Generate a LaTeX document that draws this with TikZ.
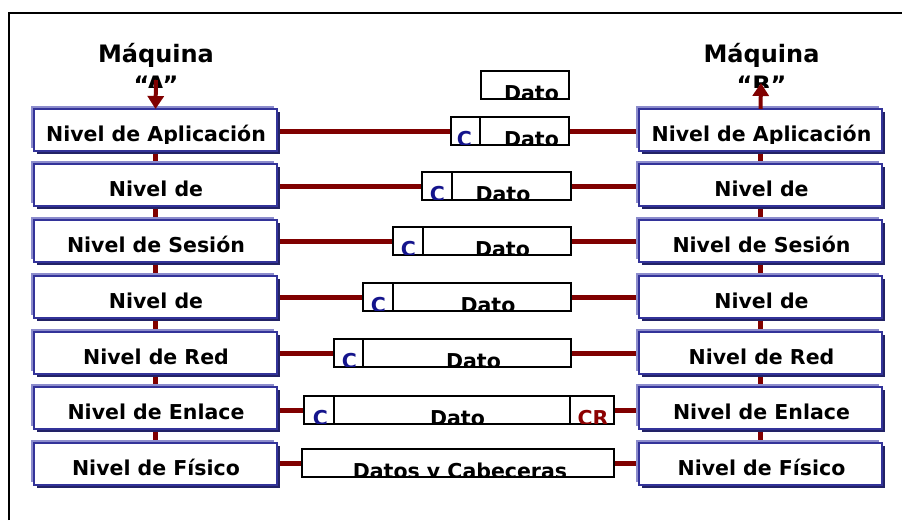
\documentclass[tikz,border=0pt]{standalone}
\usepackage{fontspec}
\setmainfont{DejaVu Sans}
\usetikzlibrary{shadows,arrows.meta,backgrounds,calc}
\definecolor{lay}{RGB}{51,51,153}
\definecolor{layL}{RGB}{140,140,204}
\definecolor{layD}{RGB}{34,34,102}
\definecolor{wire}{RGB}{128,0,0}
\definecolor{cblue}{RGB}{20,20,140}
\definecolor{cred}{RGB}{140,0,0}
\begin{document}
\begin{tikzpicture}[x=1pt,y=-1pt,
  layerbox/.style={rectangle, draw=lay, line width=2pt, fill=white,
    minimum width=243pt, minimum height=42pt, outer sep=0pt, inner sep=0pt,
    general shadow={shadow xshift=-3pt, shadow yshift=3pt, fill=layL},
    general shadow={shadow xshift=3pt, shadow yshift=-3pt, fill=layD}},
  lbl/.style={font=\fontsize{20.5}{24}\selectfont\bfseries, anchor=base, inner sep=0pt},
  title/.style={font=\fontsize{24}{28}\selectfont\bfseries, anchor=base, inner sep=0pt},
  pkt/.style={rectangle, draw=black, line width=1.5pt, fill=white, outer sep=0pt,
    inner sep=0pt, anchor=north west, minimum height=28pt},
  pktline/.style={draw=black, line width=1.5pt},
  ptext/.style={font=\fontsize{20.5}{24}\selectfont\bfseries, anchor=base, inner sep=0pt},
  ctext/.style={ptext, text=cblue},
  crtext/.style={ptext, text=cred},
  wireline/.style={draw=wire, line width=5pt},
  wirearrow/.style={draw=wire, line width=4pt, -{Triangle[width=16pt,length=13pt]}},
  frame/.style={draw=black, line width=2pt}
]
\useasboundingbox (0,0) rectangle (902,520);

% outer frame
\coordinate (fa) at (9,520);
\coordinate (fb) at (9,13);
\coordinate (fc) at (902,13);
\draw[frame] (fa) -- (fb) -- (fc);

% layer boxes and labels
\foreach \i/\t/\txt in {1/109/Nivel de Aplicación, 2/164/Nivel de, 3/220/Nivel de Sesión,
  4/276/Nivel de, 5/332/Nivel de Red, 6/387/Nivel de Enlace, 7/443/Nivel de Físico}{
  \node[layerbox] (la\i) at (155.5,{\t+21}) {};
  \node[layerbox] (ra\i) at (760.5,{\t+21}) {};
  \begin{scope}
    \clip (0,\t) rectangle (902,{\t+34});
    \node[lbl] (lt\i) at (156,{\t+32}) {\txt};
    \node[lbl] (rt\i) at (761.5,{\t+32}) {\txt};
  \end{scope}
}

% packets
\node[pkt, minimum width=88pt] (p0) at (481,71) {};
\node[pkt, minimum width=118pt] (p1) at (451,117) {};
\node[pkt, minimum width=149pt] (p2) at (422,172) {};
\node[pkt, minimum width=178pt] (p3) at (393,227) {};
\node[pkt, minimum width=208pt] (p4) at (363,283) {};
\node[pkt, minimum width=237pt] (p5) at (334,339) {};
\node[pkt, minimum width=310pt] (p6) at (304,396) {};
\node[pkt, minimum width=312pt] (p7) at (302,449) {};

% dividers
\draw[pktline] ([xshift=29pt]p1.north west) -- ([xshift=29pt]p1.south west);
\draw[pktline] ([xshift=30pt]p2.north west) -- ([xshift=30pt]p2.south west);
\draw[pktline] ([xshift=30pt]p3.north west) -- ([xshift=30pt]p3.south west);
\draw[pktline] ([xshift=30pt]p4.north west) -- ([xshift=30pt]p4.south west);
\draw[pktline] ([xshift=29pt]p5.north west) -- ([xshift=29pt]p5.south west);
\draw[pktline] ([xshift=30pt]p6.north west) -- ([xshift=30pt]p6.south west);
\draw[pktline] ([xshift=-44pt]p6.north east) -- ([xshift=-44pt]p6.south east);

% packet texts (clipped to the packet interior)
\begin{scope}
  \clip ([shift={(0.75,0.75)}]p0.north west) rectangle ([shift={(-0.75,-0.75)}]p0.south east);
  \node[ptext] (d0) at (531.5,100.5) {Dato};
\end{scope}
\begin{scope}
  \clip ([shift={(0.75,0.75)}]p1.north west) rectangle ([shift={(-0.75,-0.75)}]p1.south east);
  \node[ctext] (c1) at (464.3,146.5) {C};
  \node[ptext] (d1) at (531.5,146.5) {Dato};
\end{scope}
\begin{scope}
  \clip ([shift={(0.75,0.75)}]p2.north west) rectangle ([shift={(-0.75,-0.75)}]p2.south east);
  \node[ctext] (c2) at (437.5,201.5) {C};
  \node[ptext] (d2) at (503,201.5) {Dato};
\end{scope}
\begin{scope}
  \clip ([shift={(0.75,0.75)}]p3.north west) rectangle ([shift={(-0.75,-0.75)}]p3.south east);
  \node[ctext] (c3) at (408.5,256.5) {C};
  \node[ptext] (d3) at (502.5,256.5) {Dato};
\end{scope}
\begin{scope}
  \clip ([shift={(0.75,0.75)}]p4.north west) rectangle ([shift={(-0.75,-0.75)}]p4.south east);
  \node[ctext] (c4) at (378.5,312.5) {C};
  \node[ptext] (d4) at (488,312.5) {Dato};
\end{scope}
\begin{scope}
  \clip ([shift={(0.75,0.75)}]p5.north west) rectangle ([shift={(-0.75,-0.75)}]p5.south east);
  \node[ctext] (c5) at (349.5,368.5) {C};
  \node[ptext] (d5) at (473.5,368.5) {Dato};
\end{scope}
\begin{scope}
  \clip ([shift={(0.75,0.75)}]p6.north west) rectangle ([shift={(-0.75,-0.75)}]p6.south east);
  \node[ctext] (c6) at (320.5,425.5) {C};
  \node[ptext] (d6) at (457.5,425.5) {Dato};
  \node[crtext] (cr6) at (593,425.5) {CR};
\end{scope}
\begin{scope}
  \clip ([shift={(0.75,0.75)}]p7.north west) rectangle ([shift={(-0.75,-0.75)}]p7.south east);
  \node[ptext] (d7) at (460,478.5) {Datos y Cabeceras};
\end{scope}

% titles
\node[title] (ma) at (156,62) {Máquina};
\node[title] (mb) at (761.5,62) {Máquina};
\begin{scope}
  \clip (100,66) rectangle (212,87);
  \node[title] (qa) at (156,93.5) {“A”};
\end{scope}
\begin{scope}
  \clip (705,66) rectangle (818,87);
  \node[title] (qb) at (761.5,93.5) {“B”};
\end{scope}

% arrows
\coordinate (ta) at (156,80);
\coordinate (tb) at (761,83);
\draw[wirearrow] (ta) -- (la1.north);
\draw[wirearrow] (ra1.north) -- (tb);

% connectors behind
\begin{scope}[on background layer]
  \draw[wireline] (la1.center) -- (la7.center);
  \draw[wireline] (ra1.center) -- (ra7.center);
  \foreach \i in {1,...,7}{
    \draw[wireline] (la\i.east |- p\i.west) -- (p\i.west);
    \draw[wireline] (p\i.east) -- (ra\i.west |- p\i.east);
  }
\end{scope}
\end{tikzpicture}
\end{document}
